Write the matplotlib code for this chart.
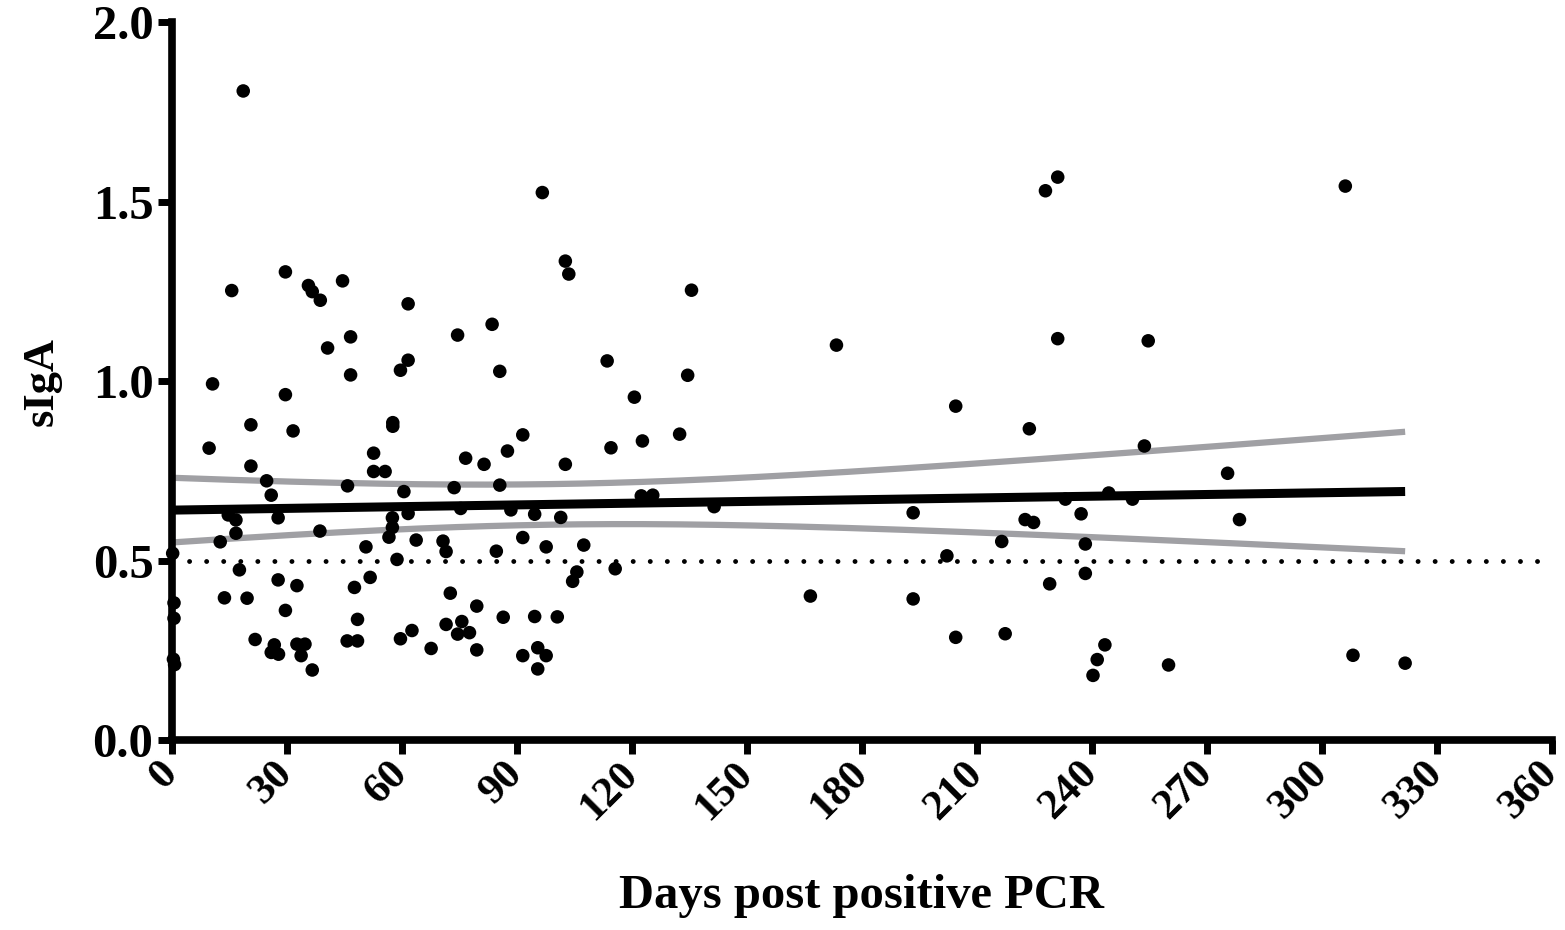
import matplotlib.pyplot as plt
import numpy as np

# days post positive PCR
days = [0.3, 0.65, 0.65, 0.5, 0.8, 9.8, 10.7, 12.7, 13.8, 14.8, 15.7, 16.8, 16.8, 17.7, 18.7,
        19.7, 20.7, 20.7, 21.8, 24.8, 26.0, 26.8, 26.0, 27.9, 27.8, 27.8, 29.7, 29.7, 29.7,
        31.7, 32.7, 32.7, 34.8, 33.8, 35.7, 36.7, 36.7, 38.8, 38.7, 40.7, 44.6, 45.9, 45.8,
        46.7, 46.7, 47.7, 48.5, 48.5,
        50.7, 51.8, 52.7, 52.7, 55.7, 56.7, 57.6, 57.6, 57.7, 57.7, 58.8, 59.7, 59.7, 60.6,
        61.7, 61.7, 61.7, 62.7, 63.8, 67.7, 70.8, 71.6, 71.6, 72.7, 73.7, 74.6, 74.6, 75.4,
        75.7, 76.7, 77.7, 79.6, 79.6, 81.5, 83.6, 84.7, 85.6, 85.6, 86.5, 87.6, 88.5, 91.6,
        91.6, 91.6, 94.7, 94.7, 95.5, 95.5,
        96.7, 97.7, 97.7, 100.6, 101.5, 102.7, 102.7, 103.6, 104.6, 105.7, 107.5, 113.6,
        114.6, 115.7, 120.7, 122.5, 122.8, 125.5, 132.5, 134.6, 135.6, 141.5,
        166.6, 173.4, 193.4, 193.4, 202.2, 204.5, 204.5, 216.5, 217.4,
        222.6, 223.7, 224.8, 227.9, 229.0, 231.1, 231.1, 233.1, 237.2, 238.3, 238.3, 240.3,
        241.4, 243.4, 244.4, 250.6, 253.7, 254.7, 260.0, 275.4, 278.5,
        306.1, 308.1, 321.7]

# sIgA values
sIgA = [0.52, 0.382, 0.339, 0.225, 0.210, 0.813, 0.992, 0.552, 0.396, 0.627, 1.252, 0.613, 0.576, 0.474, 1.808,
        0.395, 0.878, 0.763, 0.280, 0.722, 0.682, 0.265, 0.244, 0.239, 0.619, 0.446, 1.304, 0.962, 0.361,
        0.861, 0.430, 0.267, 0.267, 0.235, 1.266, 1.249, 0.195, 1.225, 0.582, 1.092, 1.279, 0.708, 0.276,
        1.123, 1.017, 0.425, 0.336, 0.276,
        0.538, 0.453, 0.799, 0.748, 0.748, 0.565, 0.592, 0.619, 0.884, 0.874, 0.503, 1.030, 0.282, 0.692,
        1.215, 1.058, 0.631, 0.305, 0.557, 0.255, 0.554, 0.525, 0.322, 0.409, 0.703, 1.128, 0.295, 0.645,
        0.330, 0.785, 0.299, 0.373, 0.251, 0.768, 1.158, 0.526, 1.027, 0.710, 0.342, 0.805, 0.641, 0.850,
        0.564, 0.235, 0.629, 0.344, 0.257, 0.198,
        1.525, 0.538, 0.235, 0.343, 0.620, 1.334, 0.768, 1.298, 0.442, 0.468, 0.543, 1.056,
        0.814, 0.477, 0.955, 0.680, 0.833, 0.682, 0.852, 1.016, 1.253, 0.650,
        0.401, 1.100, 0.633, 0.393, 0.513, 0.930, 0.286, 0.553, 0.296,
        0.614, 0.867, 0.606, 1.530, 0.435, 1.568, 1.118, 0.671, 0.630, 0.546, 0.464, 0.180,
        0.224, 0.265, 0.688, 0.671, 0.819, 1.112, 0.209, 0.743, 0.614,
        1.543, 0.236, 0.214]

cutoff = 0.5
xticks = list(range(0, 361, 30))
yticks = [0.0, 0.5, 1.0, 1.5, 2.0]

x = np.array(days)
y = np.array(sIgA)

# linear regression + 95% confidence band
slope, intercept = np.polyfit(x, y, 1)
n = len(x)
resid = y - (intercept + slope * x)
s = np.sqrt(np.sum(resid ** 2) / (n - 2))
t = 1.976
xs = np.linspace(0, x.max(), 200)
fit = intercept + slope * xs
se = s * np.sqrt(1.0 / n + (xs - x.mean()) ** 2 / np.sum((x - x.mean()) ** 2))

plt.rcParams['font.family'] = ['Liberation Serif', 'DejaVu Serif']
plt.rcParams['font.weight'] = 'bold'

fig = plt.figure(figsize=(15.65, 9.3), dpi=100)
ax = fig.add_axes([0.1096, 0.2043, 0.8821, 0.772])

ax.plot([0, 360], [cutoff, cutoff], color='black', lw=3.5, linestyle=(0, (0.01, 3.5)),
        dash_capstyle='round', zorder=1)
ax.scatter(x, y, s=95, color='black', edgecolors='none', zorder=3, clip_on=False)
ax.plot(xs, fit + t * se, color='#a0a0a4', lw=4.5, zorder=2, solid_capstyle='butt')
ax.plot(xs, fit - t * se, color='#a0a0a4', lw=4.5, zorder=2, solid_capstyle='butt')
ax.plot(xs, fit, color='black', lw=6.5, zorder=4, solid_capstyle='butt')

ax.set_xlim(0, 360)
ax.set_ylim(0, 2)
ax.set_xticks(xticks)
ax.set_yticks(yticks)
ax.set_yticklabels(['%.1f' % v for v in yticks])
for sp in ['top', 'right']:
    ax.spines[sp].set_visible(False)
for sp in ['left', 'bottom']:
    ax.spines[sp].set_linewidth(5.5)
    ax.spines[sp].set_zorder(5)
ax.tick_params(axis='both', width=5, length=10)
ax.tick_params(axis='y', labelsize=35, pad=3)
ax.tick_params(axis='x', labelsize=31, pad=10)
plt.setp(ax.get_xticklabels(), rotation=45, ha='right', va='center', rotation_mode='anchor')

ax.set_xlabel('Days post positive PCR', fontsize=35, fontweight='bold', labelpad=34)
ax.set_ylabel('sIgA', fontsize=32, fontweight='bold', labelpad=22)

fig.savefig('out.png', dpi=100)
